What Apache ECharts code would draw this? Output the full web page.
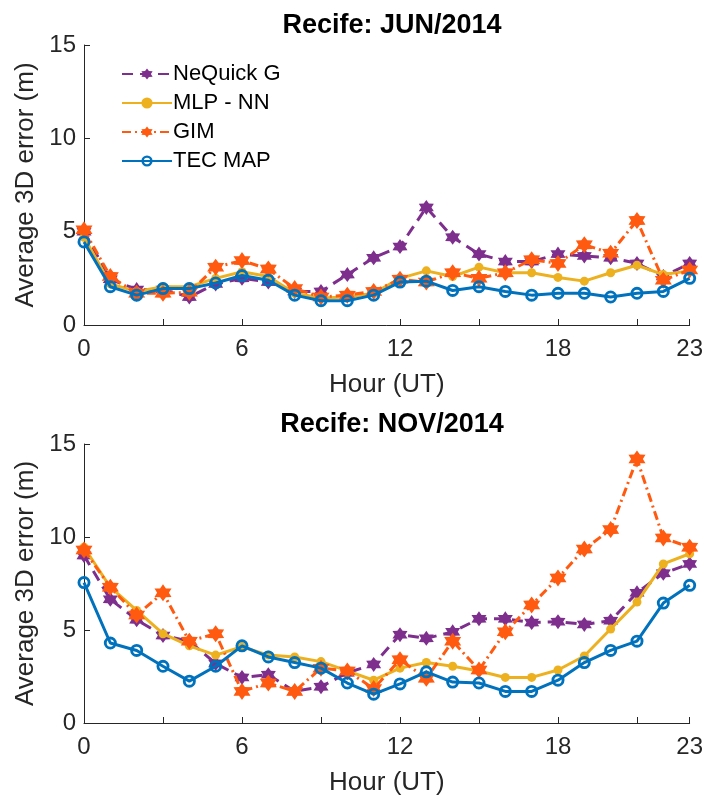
<!DOCTYPE html>
<html>
<head>
<meta charset="utf-8">
<script src="https://cdn.jsdelivr.net/npm/echarts@6/dist/echarts.min.js"></script>
<style>
  html, body { margin: 0; padding: 0; background: #fff; }
  #chart { width: 706px; height: 801px; }
</style>
</head>
<body>
<div id="chart"></div>
<script>
// Hours of the day (UT)
const hours = [0,1,2,3,4,5,6,7,8,9,10,11,12,13,14,15,16,17,18,19,20,21,22,23];
const xTickLabels = [0, 6, 12, 18, 23];
const yTickLabels = [0, 5, 10, 15];
const seriesNames = ['NeQuick G', 'MLP - NN', 'GIM', 'TEC MAP'];
const panelTitles = ['Recife: JUN/2014', 'Recife: NOV/2014'];

// Average 3D positioning error (m), June 2014
const nequickJun = [5.0, 2.45, 1.9, 1.9, 1.5, 2.2, 2.5, 2.3, 1.8, 1.8, 2.7, 3.6, 4.2, 6.3, 4.7, 3.8, 3.4, 3.4, 3.8, 3.7, 3.6, 3.3, 2.6, 3.3];
const mlpJun     = [4.7, 2.2, 1.8, 2.05, 2.05, 2.5, 2.85, 2.6, 1.7, 1.45, 1.5, 1.7, 2.5, 2.9, 2.6, 3.1, 2.8, 2.8, 2.55, 2.35, 2.8, 3.2, 2.7, 2.9];
const gimJun     = [5.1, 2.6, 1.7, 1.7, 1.75, 3.1, 3.45, 3.0, 1.95, 1.5, 1.6, 1.8, 2.45, 2.3, 2.8, 2.5, 2.8, 3.5, 3.3, 4.3, 3.85, 5.6, 2.4, 2.95];
const tecJun     = [4.45, 2.05, 1.6, 1.95, 1.95, 2.25, 2.65, 2.4, 1.6, 1.3, 1.3, 1.6, 2.3, 2.35, 1.85, 2.05, 1.8, 1.6, 1.7, 1.7, 1.5, 1.7, 1.8, 2.5];

// Average 3D positioning error (m), November 2014
const nequickNov = [9.0, 6.65, 5.55, 4.7, 4.4, 3.2, 2.45, 2.6, 1.7, 1.95, 2.7, 3.15, 4.75, 4.55, 4.9, 5.6, 5.6, 5.4, 5.45, 5.3, 5.5, 7.0, 8.05, 8.55];
const mlpNov     = [9.45, 7.3, 6.05, 4.8, 4.15, 3.65, 4.1, 3.65, 3.55, 3.3, 2.8, 2.3, 2.95, 3.25, 3.05, 2.8, 2.45, 2.45, 2.85, 3.6, 5.05, 6.5, 8.55, 9.1];
const gimNov     = [9.3, 7.3, 5.8, 7.0, 4.4, 4.8, 1.7, 2.15, 1.7, 2.95, 2.8, 1.85, 3.4, 2.4, 4.4, 2.85, 4.9, 6.35, 7.8, 9.35, 10.4, 14.2, 9.95, 9.45];
const tecNov     = [7.55, 4.3, 3.9, 3.05, 2.25, 3.05, 4.15, 3.55, 3.25, 2.95, 2.15, 1.55, 2.1, 2.75, 2.2, 2.15, 1.7, 1.7, 2.3, 3.25, 3.9, 4.4, 6.45, 7.4];

const FONT = '"Liberation Sans", Arial, sans-serif';
const AXIS_COLOR = '#262626';
const COLORS = ['#7E2F8E', '#EDB120', '#FF5A0F', '#0072BD'];

// Six-pointed star marker as an SVG path
function starPath(points, inner) {
  let d = '';
  for (let i = 0; i < points * 2; i++) {
    const r = i % 2 ? inner : 1;
    const a = -Math.PI / 2 + i * Math.PI / points;
    const x = (50 + 50 * r * Math.cos(a)).toFixed(2);
    const y = (50 + 50 * r * Math.sin(a)).toFixed(2);
    d += (i === 0 ? 'M' : 'L') + x + ' ' + y + ' ';
  }
  return 'path://' + d + 'Z';
}
const HEXAGRAM = starPath(6, 0.6);
// Open ring (hole left unfilled so the line shows through)
const RING = 'path://M50 0 A50 50 0 1 1 50 100 A50 50 0 1 1 50 0 Z M50 22 A28 28 0 1 0 50 78 A28 28 0 1 0 50 22 Z';

const grids = [
  { left: 84, top: 45, width: 606, height: 280 },
  { left: 84, top: 444, width: 606, height: 279 }
];

function xAxis(gridIndex) {
  return {
    type: 'value', gridIndex, min: 0, max: 23, interval: 3,
    name: 'Hour (UT)', nameLocation: 'middle', nameGap: 47,
    nameTextStyle: { fontFamily: FONT, fontSize: 26, color: AXIS_COLOR },
    axisLine: { lineStyle: { color: AXIS_COLOR, width: 1 } },
    axisTick: { inside: true, length: 6, lineStyle: { color: AXIS_COLOR } },
    axisLabel: {
      margin: 12, fontFamily: FONT, fontSize: 24, color: AXIS_COLOR,
      showMinLabel: true, showMaxLabel: true,
      formatter: v => xTickLabels.indexOf(v) >= 0 ? String(v) : ''
    },
    splitLine: { show: false }
  };
}
function yAxis(gridIndex) {
  return {
    type: 'value', gridIndex, min: 0, max: 15, interval: 5,
    name: 'Average 3D error (m)', nameLocation: 'middle', nameGap: 43, nameRotate: 90,
    nameTextStyle: { fontFamily: FONT, fontSize: 26, color: AXIS_COLOR },
    axisLine: { show: true, lineStyle: { color: AXIS_COLOR, width: 1 } },
    axisTick: { show: true, inside: true, length: 6, lineStyle: { color: AXIS_COLOR } },
    axisLabel: {
      margin: 8, fontFamily: FONT, fontSize: 24, color: AXIS_COLOR,
      formatter: v => yTickLabels.indexOf(v) >= 0 ? String(v) : ''
    },
    splitLine: { show: false }
  };
}

const styles = [
  { symbol: HEXAGRAM, symbolSize: 15, lineType: [11, 7], item: { color: COLORS[0] } },
  { symbol: 'circle', symbolSize: 9, lineType: 'solid', item: { color: COLORS[1] } },
  { symbol: HEXAGRAM, symbolSize: 17, lineType: [9, 4, 2, 4], item: { color: COLORS[2] } },
  { symbol: RING, symbolSize: 13, lineType: 'solid', item: { color: COLORS[3] } }
];

function makeSeries(values, idx, gridIdx) {
  const st = styles[idx];
  return {
    type: 'line', name: seriesNames[idx],
    xAxisIndex: gridIdx, yAxisIndex: gridIdx,
    data: hours.map((h, i) => [h, values[i]]),
    symbol: st.symbol, symbolSize: st.symbolSize, showAllSymbol: true,
    lineStyle: { color: COLORS[idx], width: 3, type: st.lineType },
    itemStyle: st.item,
    z: 2 + idx, animation: false
  };
}

const chart = echarts.init(document.getElementById('chart'), null, { renderer: 'canvas' });
chart.setOption({
  backgroundColor: '#ffffff',
  animation: false,
  title: [
    { text: panelTitles[0], left: 387, top: 7, textAlign: 'center',
      textStyle: { fontFamily: FONT, fontSize: 27, fontWeight: 'bold', color: '#000' } },
    { text: panelTitles[1], left: 387, top: 406, textAlign: 'center',
      textStyle: { fontFamily: FONT, fontSize: 27, fontWeight: 'bold', color: '#000' } }
  ],
  legend: {
    orient: 'vertical', left: 116, top: 58,
    itemWidth: 50, itemHeight: 14, itemGap: 7,
    textStyle: { fontFamily: FONT, fontSize: 22, color: '#000', padding: [0, 0, 0, -4] },
    data: seriesNames
  },
  grid: grids,
  xAxis: [xAxis(0), xAxis(1)],
  yAxis: [yAxis(0), yAxis(1)],
  series: [
    makeSeries(nequickJun, 0, 0), makeSeries(mlpJun, 1, 0), makeSeries(gimJun, 2, 0), makeSeries(tecJun, 3, 0),
    makeSeries(nequickNov, 0, 1), makeSeries(mlpNov, 1, 1), makeSeries(gimNov, 2, 1), makeSeries(tecNov, 3, 1)
  ]
});
</script>
</body>
</html>
